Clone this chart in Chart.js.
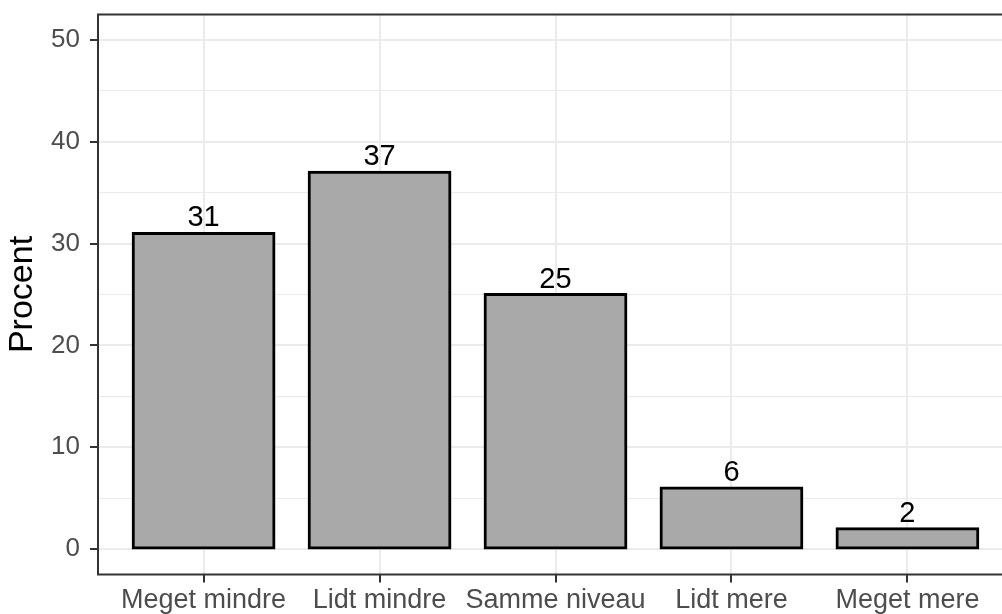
<!DOCTYPE html>
<html>
<head>
<meta charset="utf-8">
<script src="https://cdn.jsdelivr.net/npm/chart.js@4/dist/chart.umd.min.js"></script>
<style>
  html, body { margin: 0; padding: 0; background: #fff; overflow: hidden; width: 1002px; height: 614px; }
  canvas { display: block; }
</style>
</head>
<body>
<canvas id="c" width="1014" height="614" style="width:1014px;height:614px"></canvas>
<script>
const categories = ["Meget mindre", "Lidt mindre", "Samme niveau", "Lidt mere", "Meget mere"];
const values = [31, 37, 25, 6, 2];
const yTicks = [0, 5, 10, 15, 20, 25, 30, 35, 40, 45, 50];
const yTitle = "Procent";

const FONT = "'Liberation Sans', Arial, sans-serif";

const borderPlugin = {
  id: 'panelBorder',
  afterDraw(chart) {
    const {ctx, chartArea: a} = chart;
    ctx.save();
    ctx.strokeStyle = '#333333';
    ctx.lineWidth = 2;
    ctx.strokeRect(a.left, a.top, a.right - a.left, a.bottom - a.top);
    ctx.restore();
  }
};

const labelPlugin = {
  id: 'barLabels',
  afterDatasetsDraw(chart) {
    const {ctx} = chart;
    const meta = chart.getDatasetMeta(0);
    ctx.save();
    ctx.fillStyle = '#000000';
    ctx.font = "29px " + FONT;
    ctx.textAlign = 'center';
    ctx.textBaseline = 'alphabetic';
    meta.data.forEach((el, i) => {
      ctx.fillText(String(values[i]), el.x, el.y - 7);
    });
    ctx.restore();
  }
};

new Chart(document.getElementById('c'), {
  type: 'bar',
  data: {
    datasets: [{
      data: values.map((v, i) => ({x: i, y: v})),
      backgroundColor: '#A9A9A9',
      borderColor: '#000000',
      borderWidth: 3,
      inflateAmount: 1.5,
      borderSkipped: false,
      barPercentage: 0.8,
      categoryPercentage: 1.0
    }]
  },
  options: {
    responsive: false,
    animation: false,
    devicePixelRatio: 1,
    layout: { padding: { left: 0, top: 14.5, right: 1, bottom: 0 } },
    plugins: { legend: { display: false }, tooltip: { enabled: false } },
    scales: {
      x: {
        type: 'linear',
        min: -0.6,
        max: 4.6,
        offset: false,
        bounds: 'data',
        afterBuildTicks: s => { s.ticks = categories.map((_, i) => ({value: i})); },
        afterFit: s => { s.height = 39.5; s.paddingLeft = 0; s.paddingRight = 0; },
        border: { display: false },
        grid: {
          offset: false,
          color: '#EBEBEB',
          lineWidth: 2,
          tickColor: '#333333',
          tickWidth: 2,
          tickLength: 8
        },
        ticks: {
          autoSkip: false,
          maxRotation: 0,
          padding: 2,
          color: '#4D4D4D',
          font: { family: FONT, size: 27 },
          callback: v => categories[v]
        }
      },
      y: {
        type: 'linear',
        min: -2.5,
        max: 52.5,
        bounds: 'data',
        afterBuildTicks: s => { s.ticks = yTicks.map(v => ({value: v})); },
        afterFit: s => { s.width = 98; s.paddingTop = 0; s.paddingBottom = 0; },
        border: { display: false },
        grid: {
          color: '#EBEBEB',
          lineWidth: c => (c.tick && c.tick.value % 10 === 0) ? 2 : 1,
          tickColor: c => (c.tick && c.tick.value % 10 === 0) ? '#333333' : 'rgba(0,0,0,0)',
          tickWidth: 2,
          tickLength: 8
        },
        ticks: {
          autoSkip: false,
          padding: 10,
          color: '#4D4D4D',
          font: { family: FONT, size: 26 },
          callback: v => (v % 10 === 0 ? String(v) : '')
        },
        title: {
          display: true,
          text: yTitle,
          color: '#000000',
          font: { family: FONT, size: 34, lineHeight: 1 },
          padding: { top: 6, bottom: 0 }
        }
      }
    }
  },
  plugins: [borderPlugin, labelPlugin]
});
</script>
</body>
</html>
